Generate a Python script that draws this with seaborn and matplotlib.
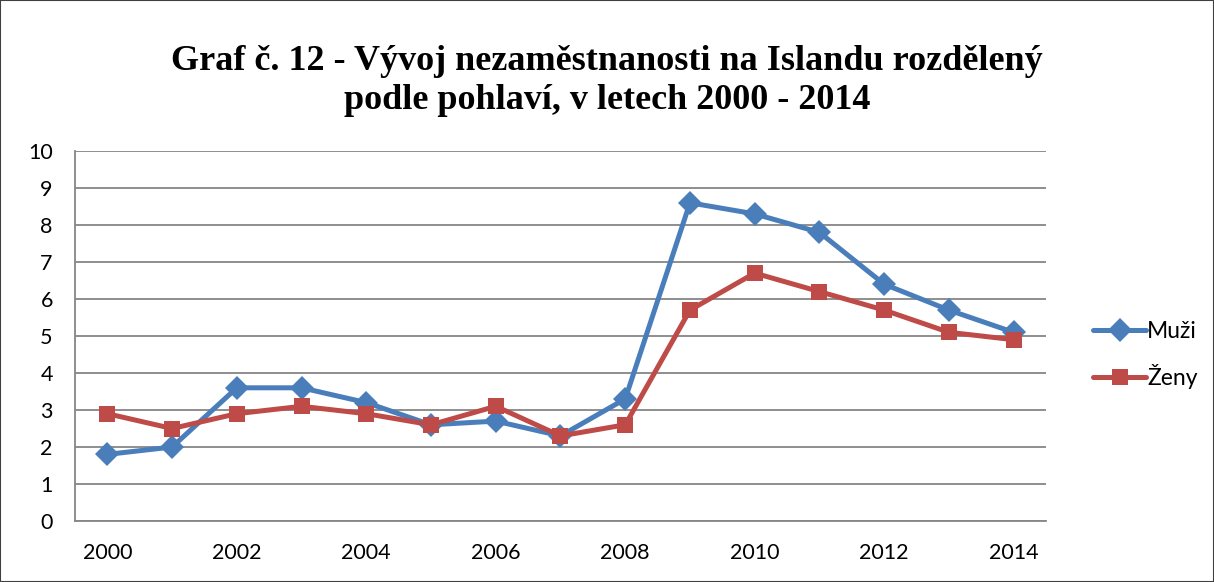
import matplotlib
matplotlib.use("Agg")
import matplotlib.pyplot as plt
import numpy as np
import pandas as pd
import seaborn as sns
from matplotlib.patches import Rectangle

# Data
years = list(range(2000, 2015))
muzi = [1.8, 2.0, 3.6, 3.6, 3.2, 2.6, 2.7, 2.3, 3.3, 8.6, 8.3, 7.8, 6.4, 5.7, 5.1]
zeny = [2.9, 2.5, 2.9, 3.1, 2.9, 2.6, 3.1, 2.3, 2.6, 5.7, 6.7, 6.2, 5.7, 5.1, 4.9]
series_names = ["Muži", "Ženy"]
y_ticks = list(range(0, 11))
x_labels = [2000, 2002, 2004, 2006, 2008, 2010, 2012, 2014]

title = "Graf č. 12 - Vývoj nezaměstnanosti na Islandu rozdělený\npodle pohlaví, v letech 2000 - 2014"

df = pd.DataFrame({
    "Rok": years * 2,
    "Hodnota": muzi + zeny,
    "Pohlaví": [series_names[0]] * len(years) + [series_names[1]] * len(years),
})

sns.set_style("white")
plt.rcParams["font.family"] = ["Lato", "DejaVu Sans"]
plt.rcParams["text.color"] = "black"

fig = plt.figure(figsize=(12.14, 5.82), dpi=100)
ax = fig.add_axes([75 / 1214, 1 - 521 / 582, (1046 - 75) / 1214, (521 - 151) / 582])

palette = {"Muži": "#4A7EBB", "Ženy": "#BE4B48"}
sns.lineplot(data=df, x="Rok", y="Hodnota", hue="Pohlaví", style="Pohlaví",
             markers={"Muži": "D", "Ženy": "s"}, dashes=False, palette=palette,
             linewidth=3.6, markersize=12, markeredgewidth=0, ax=ax)

# axes styling (Excel look)
ax.set_xlim(years[0] - 0.5, years[-1] + 0.5)
ax.set_ylim(0, 10)
ax.set_yticks(y_ticks)
ax.set_xticks(x_labels)
ax.set_xticks(np.arange(years[0] - 0.5, years[-1] + 1, 1), minor=True)
ax.tick_params(axis="x", which="major", length=0, pad=16, labelsize=15.5, colors="black")
ax.tick_params(axis="x", which="minor", length=7, width=1.3, color="#868686", direction="out")
ax.tick_params(axis="y", which="major", length=6, width=1.3, color="#868686",
               direction="out", pad=10, labelsize=15.5, labelcolor="black")
ax.grid(axis="y", color="#868686", linewidth=1.3)
ax.set_axisbelow(True)
for side in ["top", "right"]:
    ax.spines[side].set_visible(False)
for side in ["left", "bottom"]:
    ax.spines[side].set_color("#868686")
    ax.spines[side].set_linewidth(1.3)
ax.set_xlabel("")
ax.set_ylabel("")

handles, labels = ax.get_legend_handles_labels()
ax.legend(handles, labels, frameon=False, loc="center left",
          bbox_to_anchor=(1082 / 1214, 1 - 355 / 582), bbox_transform=fig.transFigure,
          fontsize=16.5, handlelength=2.3, handletextpad=0.05, labelspacing=1.0,
          borderpad=0, labelcolor="black")

fig.text(0.5, 1 - 81 / 582, title, ha="center", va="center", color="black",
         fontsize=26, fontweight="bold", family=["Liberation Serif", "DejaVu Serif"],
         linespacing=1.25)

# thin border round the chart area
fig.patches.append(Rectangle((0, 0), 1, 1, transform=fig.transFigure, fill=False,
                             edgecolor="#404040", linewidth=1.5))

fig.savefig("out.png", dpi=100)
plt.close(fig)
